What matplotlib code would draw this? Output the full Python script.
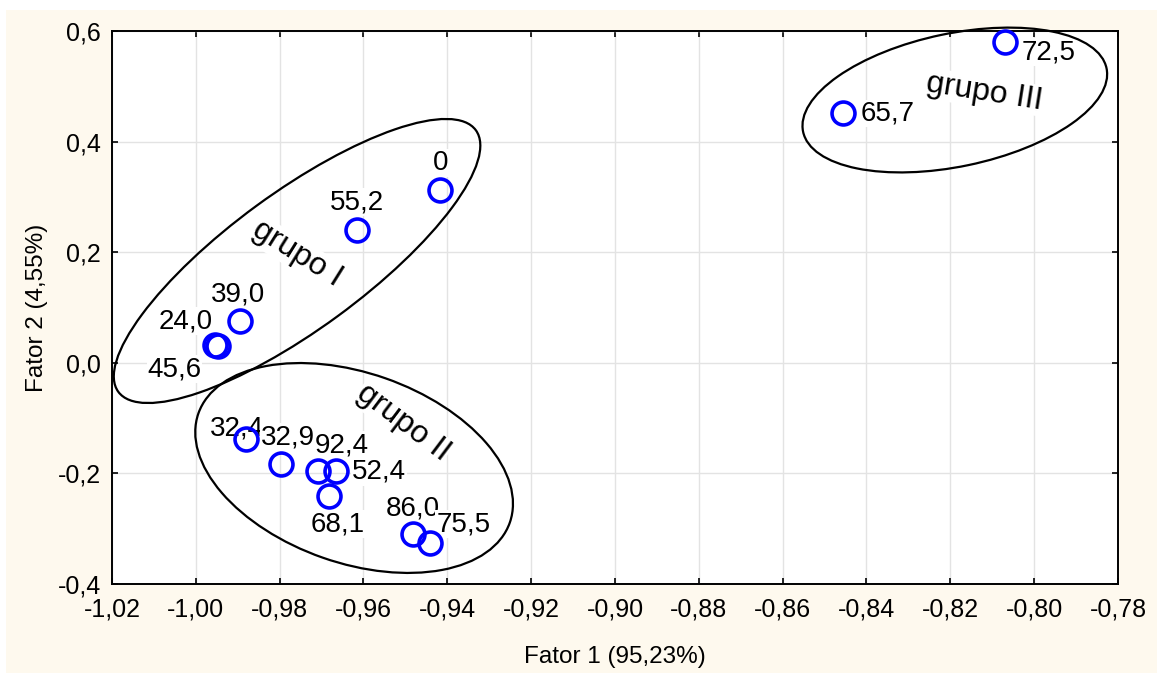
import numpy as np
import matplotlib
matplotlib.use("Agg")
import matplotlib.pyplot as plt
from matplotlib.patches import Ellipse, Rectangle
from matplotlib.ticker import FuncFormatter, MultipleLocator
import matplotlib.transforms as mtransforms

plt.rcParams['font.family'] = ['Liberation Sans', 'DejaVu Sans']

# ---- data ----
labels = ["0", "55,2", "39,0", "24,0", "45,6",
          "32,4", "32,9", "92,4", "52,4", "68,1", "86,0", "75,5",
          "65,7", "72,5"]
fator1 = [-0.9417, -0.9615, -0.9895, -0.9955, -0.9948,
          -0.9881, -0.9796, -0.9709, -0.9665, -0.9682, -0.9483, -0.9441,
          -0.8455, -0.8069]
fator2 = [0.3125, 0.240, 0.0756, 0.032, 0.030,
          -0.1378, -0.183, -0.1957, -0.1957, -0.2409, -0.3096, -0.3264,
          0.4511, 0.5796]

group_names = ["grupo I", "grupo II", "grupo III"]
group_text_x = [-0.9759, -0.9506, -0.8119]
group_text_y = [0.1967, -0.1089, 0.4897]
group_ell_x = [-0.97585, -0.96224, -0.81893]
group_ell_y = [0.1841, -0.1902, 0.4752]

xlabel = "Fator 1 (95,23%)"
ylabel = "Fator 2 (4,55%)"

# ---- layout / style (not data) ----
label_offsets = {  # points
    "0": (0, 19.4), "55,2": (0, 20.2), "39,0": (-1.4, 19.4),
    "24,0": (-20.9, 17.3), "45,6": (-31, -16.6), "32,4": (-6.5, 7.9),
    "32,9": (5, 19.4), "92,4": (17.3, 18.7), "52,4": (31, -0.7),
    "68,1": (6.5, -20.2), "86,0": (0, 18.7), "75,5": (23.8, 13.7),
    "65,7": (31.7, 0), "72,5": (31, -7.2),
}
group_rot = [-32, -37, -9]
ell_size_in = [(4.43, 1.37, 36.2), (3.30, 1.90, -19.3), (3.10, 1.33, 11.8)]

W, H = 1157, 675
fig = plt.figure(figsize=(W / 100, H / 100), dpi=100, facecolor='white')
fig.patches.append(Rectangle((6 / W, 2 / H), 1 - 6 / W, 663 / H,
                             transform=fig.transFigure, facecolor='#fef9ee',
                             edgecolor='none', zorder=-10))
ax = fig.add_axes([112 / W, (H - 584) / H, (1118 - 112) / W, (584 - 31) / H])
ax.set_facecolor('white')

ax.set_xlim(-1.02, -0.78)
ax.set_ylim(-0.4, 0.6)
ax.xaxis.set_major_locator(MultipleLocator(0.02))
ax.yaxis.set_major_locator(MultipleLocator(0.2))

def fx(v, pos):
    v = round(v, 2)
    if v == 0:
        v = 0.0
    return f"{v:.2f}".replace('.', ',')

def fy(v, pos):
    v = round(v, 1)
    if v == 0:
        v = 0.0
    return f"{v:.1f}".replace('.', ',')

ax.xaxis.set_major_formatter(FuncFormatter(fx))
ax.yaxis.set_major_formatter(FuncFormatter(fy))

ax.grid(True, color='#e3e3e3', linewidth=1.0, zorder=0)
ax.set_axisbelow(True)
ax.tick_params(direction='in', length=4, width=1.2, top=True, right=True,
               labelsize=18, colors='black')
ax.tick_params(axis='x', pad=10)
ax.tick_params(axis='y', pad=8)
for s in ax.spines.values():
    s.set_linewidth(1.4)
    s.set_color('black')

ax.set_xlabel(xlabel, fontsize=17.5, labelpad=17)
ax.set_ylabel(ylabel, fontsize=17.5, labelpad=7)

# points
ax.plot(fator1, fator2, linestyle='none', marker='o', markersize=16.5,
        markerfacecolor='none', markeredgecolor='#0000ff', markeredgewidth=2.6,
        zorder=5, clip_on=False)

# labels
for lab, x, y in zip(labels, fator1, fator2):
    dx, dy = label_offsets[lab]
    ax.annotate(lab, (x, y), xytext=(dx, dy), textcoords='offset points',
                ha='center', va='center', fontsize=20, zorder=3,
                bbox=dict(facecolor='white', edgecolor='none', pad=0.5))

# group texts
for name, x, y, r in zip(group_names, group_text_x, group_text_y, group_rot):
    ax.text(x, y, name, rotation=r, rotation_mode='anchor', ha='center',
            va='center', fontsize=23, zorder=3,
            bbox=dict(facecolor='white', edgecolor='none', pad=0.5))

# group ellipses (sized in inches, centred in data coords)
for cx, cy, (w, h, ang) in zip(group_ell_x, group_ell_y, ell_size_in):
    tr = fig.dpi_scale_trans + mtransforms.ScaledTranslation(cx, cy, ax.transData)
    e = Ellipse((0, 0), w, h, angle=ang, transform=tr, facecolor='none',
                edgecolor='black', linewidth=1.6, zorder=4, clip_on=False)
    ax.add_patch(e)

fig.savefig('out.png', dpi=100, facecolor=fig.get_facecolor())
